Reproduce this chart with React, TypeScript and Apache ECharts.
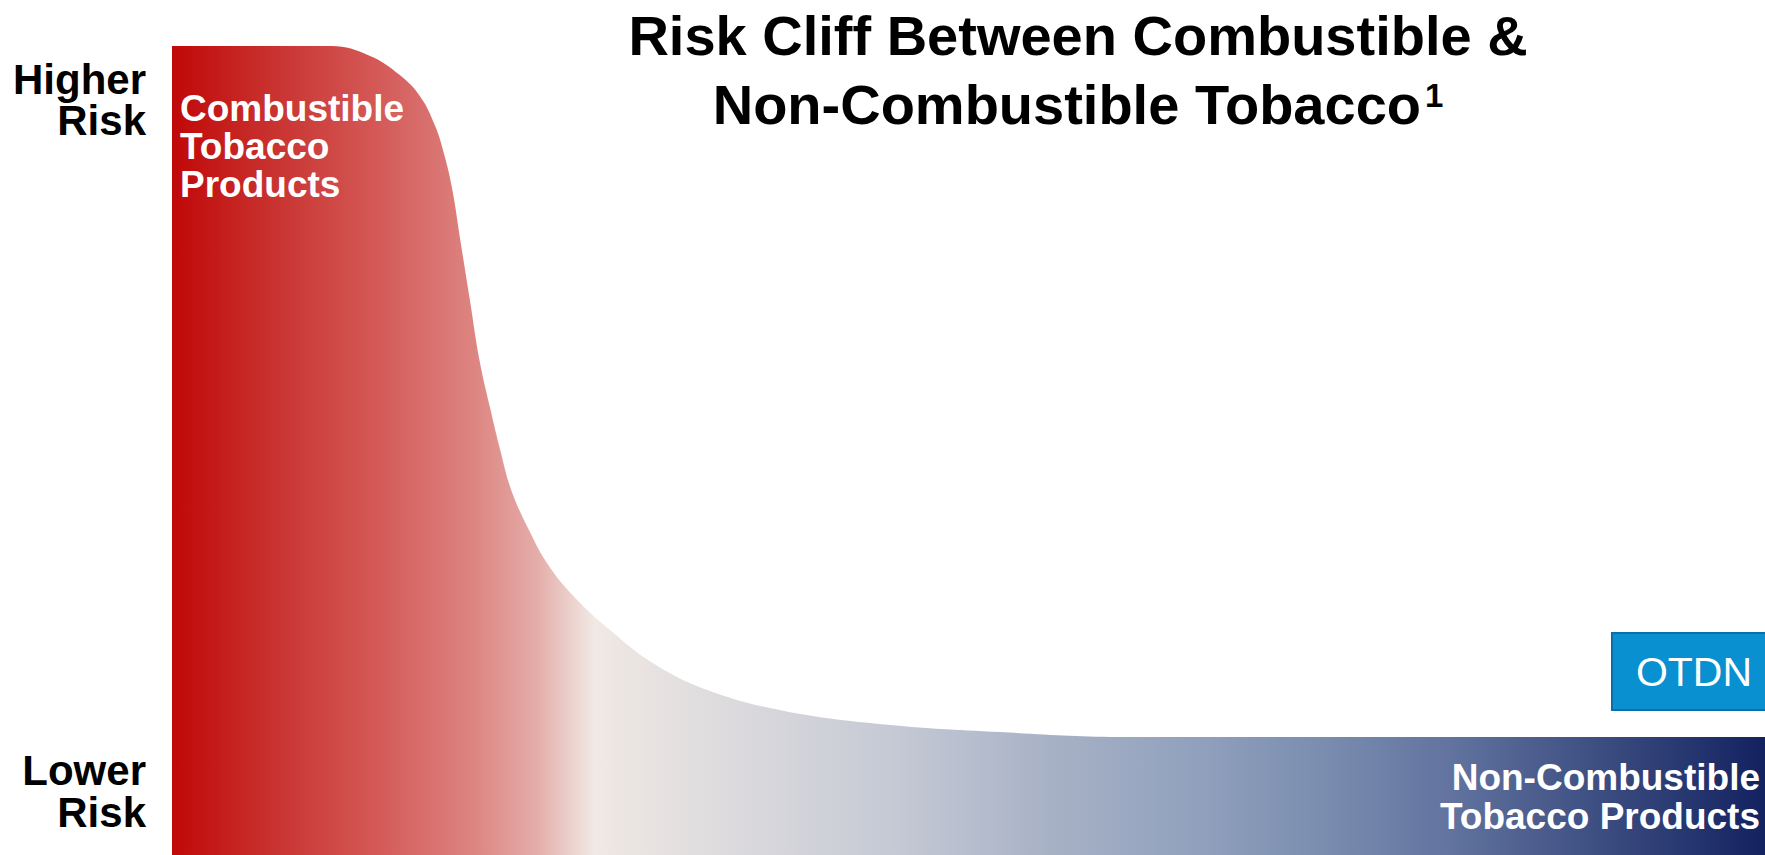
import React, { useEffect, useRef } from "react";
import * as echarts from "echarts";

// Position along the product continuum (0 = combustible, 100 = non-combustible)
const riskX = [0, 10.0, 12.4, 14.3, 15.6, 16.5, 17.1, 17.6, 18.1, 18.7, 19.3, 20.0, 20.6, 21.3, 22.4, 23.6, 25.3, 27.5, 30.2, 33.6, 38.2, 44.4, 52.0, 59.9, 75.0, 100];
// Relative risk level (100 = higher risk)
const riskY = [100, 100, 98.8, 96.4, 93.7, 90.2, 86.5, 82.2, 76.0, 68.6, 61.2, 55.0, 50.1, 45.1, 40.2, 35.9, 31.8, 27.8, 23.7, 20.4, 17.9, 16.2, 15.2, 14.6, 14.6, 14.6];

const titleLines = ["Risk Cliff Between Combustible &", "Non-Combustible Tobacco"];
const titleSup = "1";
const higherLabel = "Higher\nRisk";
const lowerLabel = "Lower\nRisk";
const combustibleLabel = "Combustible\nTobacco\nProducts";
const nonCombustibleLabel = "Non-Combustible\nTobacco Products";
const otdnLabel = "OTDN";

const FONT = '"Liberation Sans", Arial, Helvetica, sans-serif';

export default function App() {
  const ref = useRef<HTMLDivElement>(null);

  useEffect(() => {
    if (!ref.current) return;
    const chart = echarts.init(ref.current, null, { renderer: "svg" });

    const gradient = new echarts.graphic.LinearGradient(0, 0, 1, 0, [
      { offset: 0, color: "#c00808" },
      { offset: 0.06, color: "#c8302d" },
      { offset: 0.13, color: "#d45a58" },
      { offset: 0.19, color: "#dd8582" },
      { offset: 0.23, color: "#e5aeaa" },
      { offset: 0.265, color: "#f0e9e4" },
      { offset: 0.35, color: "#dcdadd" },
      { offset: 0.45, color: "#c6cad5" },
      { offset: 0.55, color: "#a8b2c6" },
      { offset: 0.65, color: "#8f9fbc" },
      { offset: 0.72, color: "#7b8eb0" },
      { offset: 0.8, color: "#62749f" },
      { offset: 0.9, color: "#3b4c80" },
      { offset: 1, color: "#132260" },
    ]);

    // y = middle of first line; lh = line height
    const txt = (
      text: string,
      x: number,
      y: number,
      size: number,
      lh: number,
      align: string,
      fill = "#000",
      weight = "bold"
    ) => ({
      type: "text",
      x,
      y: y - lh / 2,
      z: 10,
      style: {
        text,
        fill,
        font: `${weight} ${size}px ${FONT}`,
        lineHeight: lh,
        align,
        verticalAlign: "top",
      },
    });

    const graphics: any[] = [
      txt(titleLines[0], 1078, 35, 56, 60, "center"),
      txt(titleLines[1], 1421, 104, 56, 60, "right"),
      txt(titleSup, 1425, 95, 33, 34, "left"),
      txt(higherLabel, 146, 79, 42, 41, "right"),
      txt(lowerLabel, 146, 770, 42, 42, "right"),
      txt(combustibleLabel, 180, 108, 37, 38, "left", "#fff"),
      txt(nonCombustibleLabel, 1760, 777, 37, 39, "right", "#fff"),
      {
        type: "rect",
        z: 9,
        shape: { x: 1612, y: 633, width: 170, height: 77 },
        style: { fill: "#0890d0", stroke: "#0b6ea6", lineWidth: 2 },
      },
      txt(otdnLabel, 1694, 672, 41, 44, "center", "#fff", "normal"),
    ];

    chart.setOption({
      animation: false,
      backgroundColor: "#ffffff",
      grid: { left: 172, right: 0, top: 46, bottom: 0, containLabel: false },
      xAxis: { type: "value", min: 0, max: 100, show: false },
      yAxis: { type: "value", min: 0, max: 100, show: false },
      series: [
        {
          type: "line",
          data: riskX.map((x, i) => [x, riskY[i]]),
          symbol: "none",
          smooth: 0.4,
          lineStyle: { width: 0, color: "rgba(0,0,0,0)" },
          areaStyle: { color: gradient, opacity: 1 },
          silent: true,
        },
      ],
      graphic: graphics,
    });

    return () => chart.dispose();
  }, []);

  return (
    <div
      ref={ref}
      style={{ position: "fixed", left: 0, top: 0, width: 1765, height: 855 }}
    />
  );
}
